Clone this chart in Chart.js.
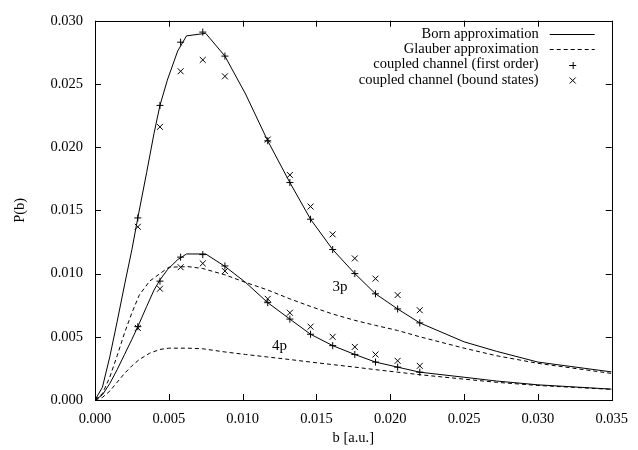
<!DOCTYPE html>
<html lang="en">
<head>
  <meta charset="UTF-8" />
  <title>P(b) for 3p and 4p</title>
  <script src="https://cdn.jsdelivr.net/npm/chart.js"></script>
  <style>
    html, body { margin: 0; padding: 0; background: #fff; }
    #wrap { width: 638px; height: 450px; }
  </style>
</head>
<body>
  <div id="wrap"><canvas id="chart" width="638" height="450"></canvas></div>

  <script>
    // curve grids (b in a.u.)
    const bornB = [0, 0.0005, 0.001, 0.0015, 0.002, 0.0025, 0.0029, 0.0035, 0.004, 0.0044, 0.0049, 0.0056, 0.0062, 0.0075, 0.0088, 0.0102, 0.0117, 0.0132, 0.0146, 0.0161, 0.0176, 0.019, 0.0205, 0.022, 0.025, 0.0272, 0.030, 0.035];
    const born3p = [0, 0.0010, 0.0034, 0.0062, 0.0091, 0.0119, 0.0144, 0.0180, 0.0211, 0.0233, 0.0253, 0.0276, 0.0288, 0.0290, 0.0272, 0.0242, 0.0205, 0.0172, 0.0143, 0.0119, 0.0100, 0.0084, 0.0072, 0.0061, 0.0046, 0.00385, 0.0030, 0.00222];
    const born4p = [0, 0.0004, 0.0013, 0.0024, 0.0036, 0.0048, 0.0058, 0.0074, 0.0087, 0.0095, 0.0103, 0.0111, 0.01155, 0.01155, 0.01057, 0.0093, 0.0077, 0.0064, 0.0052, 0.0043, 0.0036, 0.0030, 0.0026, 0.0022, 0.0018, 0.0015, 0.0012, 0.00086];

    const glauberB = [0, 0.0005, 0.001, 0.0015, 0.002, 0.0025, 0.003, 0.0037, 0.0044, 0.005, 0.0063, 0.0073, 0.0088, 0.0102, 0.0117, 0.0132, 0.0146, 0.0161, 0.0176, 0.019, 0.0205, 0.022, 0.025, 0.0272, 0.030, 0.035];
    const glauber3p = [0, 0.0005, 0.0018, 0.0035, 0.0053, 0.0069, 0.0083, 0.0094, 0.0100, 0.0105, 0.01055, 0.0104, 0.0099, 0.0093, 0.0087, 0.0080, 0.0074, 0.0068, 0.0063, 0.0059, 0.0055, 0.0050, 0.0041, 0.0035, 0.0029, 0.0021];
    const glauber4p = [0, 0.0002, 0.0007, 0.0014, 0.0021, 0.0027, 0.0032, 0.0037, 0.0040, 0.0041, 0.0041, 0.00405, 0.0038, 0.0036, 0.0034, 0.0032, 0.0030, 0.0028, 0.0026, 0.0024, 0.0022, 0.0020, 0.00165, 0.0014, 0.00115, 0.00084];

    // coupled channel points
    const pointB = [0.0029, 0.0044, 0.0058, 0.0073, 0.0088, 0.0117, 0.0132, 0.0146, 0.0161, 0.0176, 0.0190, 0.0205, 0.0220];
    const firstOrder3p = [0.0144, 0.0233, 0.0283, 0.0291, 0.0272, 0.0205, 0.0172, 0.0143, 0.0119, 0.0100, 0.0084, 0.0072, 0.0061];
    const boundStates3p = [0.0137, 0.0216, 0.0260, 0.0269, 0.0256, 0.0206, 0.0178, 0.0153, 0.0131, 0.0112, 0.0096, 0.0083, 0.0071];
    const firstOrder4p = [0.0058, 0.0094, 0.0113, 0.0115, 0.0106, 0.0077, 0.0064, 0.0052, 0.0043, 0.0036, 0.0030, 0.0026, 0.0022];
    const boundStates4p = [0.0057, 0.0088, 0.0105, 0.0108, 0.0102, 0.0080, 0.0069, 0.0058, 0.0050, 0.0042, 0.0036, 0.0031, 0.0027];

    const legendNames = ["Born approximation", "Glauber approximation", "coupled channel (first order)", "coupled channel (bound states)"];
    const curveLabels = ["3p", "4p"];
    const curveLabelB = [0.0166, 0.0125];
    const curveLabelP = [0.0089, 0.0043];

    const xTicks = [0, 0.005, 0.010, 0.015, 0.020, 0.025, 0.030, 0.035];
    const yTicks = [0, 0.005, 0.010, 0.015, 0.020, 0.025, 0.030];

    const serif = "'Liberation Serif', 'Times New Roman', 'DejaVu Serif', serif";

    function pts(xs, ys) {
      return xs.map((x, i) => ({ x, y: ys[i] }));
    }

    function lineSet(label, xs, ys, dashed) {
      return {
        label,
        data: pts(xs, ys),
        showLine: true,
        borderColor: '#000',
        borderWidth: 1,
        borderDash: dashed ? [4, 3] : [],
        pointRadius: 0,
        tension: 0,
        fill: false
      };
    }

    function markSet(label, ys, style) {
      return {
        label,
        data: pts(pointB, ys),
        showLine: false,
        pointStyle: style,
        pointRadius: style === 'cross' ? 3.5 : 4.2,
        borderColor: '#000',
        backgroundColor: '#000',
        pointBorderWidth: 1
      };
    }

    // frame, inward ticks, legend and curve labels
    const decorations = {
      id: 'decorations',
      afterDatasetsDraw(chart) {
        const ctx = chart.ctx;
        const { left, right, top, bottom } = chart.chartArea;
        const xs = chart.scales.x, ys = chart.scales.y;
        const tl = 6;
        ctx.save();
        ctx.strokeStyle = '#000';
        ctx.lineWidth = 1;
        ctx.setLineDash([]);
        ctx.beginPath();
        xTicks.forEach(v => {
          const px = Math.round(xs.getPixelForValue(v)) + 0.5;
          ctx.moveTo(px, bottom); ctx.lineTo(px, bottom - tl);
          ctx.moveTo(px, top); ctx.lineTo(px, top + tl);
        });
        yTicks.forEach(v => {
          const py = Math.round(ys.getPixelForValue(v)) + 0.5;
          ctx.moveTo(left, py); ctx.lineTo(left + tl, py);
          ctx.moveTo(right, py); ctx.lineTo(right - tl, py);
        });
        ctx.stroke();
        ctx.strokeRect(Math.round(left) + 0.5, Math.round(top) + 0.5, Math.round(right - left), Math.round(bottom - top));

        // legend
        ctx.font = '14.5px ' + serif;
        ctx.fillStyle = '#000';
        ctx.textAlign = 'right';
        ctx.textBaseline = 'middle';
        const textX = right - 73, s0 = right - 62, s1 = right - 17, mid = right - 39;
        legendNames.forEach((name, i) => {
          const y = top + 13 + i * 15.4;
          ctx.fillText(name, textX, y);
          const yy = Math.round(y) + 0.5;
          if (i < 2) {
            ctx.setLineDash(i === 1 ? [4, 3] : []);
            ctx.beginPath();
            ctx.moveTo(s0, yy); ctx.lineTo(s1, yy);
            ctx.stroke();
            ctx.setLineDash([]);
          } else if (i === 2) {
            ctx.beginPath();
            ctx.moveTo(mid - 3.5, yy); ctx.lineTo(mid + 3.5, yy);
            ctx.moveTo(mid + 0.5, yy - 3.5); ctx.lineTo(mid + 0.5, yy + 3.5);
            ctx.stroke();
          } else {
            ctx.beginPath();
            ctx.moveTo(mid - 3, yy - 3); ctx.lineTo(mid + 3, yy + 3);
            ctx.moveTo(mid - 3, yy + 3); ctx.lineTo(mid + 3, yy - 3);
            ctx.stroke();
          }
        });

        // 3p / 4p labels
        ctx.font = '15px ' + serif;
        ctx.textAlign = 'center';
        curveLabels.forEach((t, i) => {
          ctx.fillText(t, xs.getPixelForValue(curveLabelB[i]), ys.getPixelForValue(curveLabelP[i]));
        });
        ctx.restore();
      }
    };

    const tickFont = { family: serif, size: 14.5 };

    new Chart(document.getElementById('chart'), {
      type: 'scatter',
      data: {
        datasets: [
          lineSet(legendNames[0], bornB, born3p, false),
          lineSet(legendNames[0], bornB, born4p, false),
          lineSet(legendNames[1], glauberB, glauber3p, true),
          lineSet(legendNames[1], glauberB, glauber4p, true),
          markSet(legendNames[2], firstOrder3p, 'cross'),
          markSet(legendNames[2], firstOrder4p, 'cross'),
          markSet(legendNames[3], boundStates3p, 'crossRot'),
          markSet(legendNames[3], boundStates4p, 'crossRot')
        ]
      },
      options: {
        responsive: false,
        animation: false,
        layout: { padding: { top: 17, right: 21, left: 0, bottom: 0 } },
        plugins: {
          legend: { display: false },
          tooltip: { enabled: false }
        },
        scales: {
          x: {
            type: 'linear',
            min: 0,
            max: 0.035,
            afterBuildTicks: s => { s.ticks = xTicks.map(v => ({ value: v })); },
            afterFit: s => { s.height = 50; },
            ticks: {
              padding: 10,
              color: '#000',
              font: tickFont,
              maxRotation: 0,
              callback: v => v.toFixed(3)
            },
            grid: { display: false, drawTicks: false },
            border: { display: false },
            title: {
              display: true,
              text: 'b [a.u.]',
              color: '#000',
              font: tickFont,
              padding: { top: 4, bottom: 3 }
            }
          },
          y: {
            type: 'linear',
            min: 0,
            max: 0.030,
            afterBuildTicks: s => { s.ticks = yTicks.map(v => ({ value: v })); },
            afterFit: s => { s.width = 95; },
            ticks: {
              padding: 12,
              color: '#000',
              font: tickFont,
              callback: v => v.toFixed(3)
            },
            grid: { display: false, drawTicks: false },
            border: { display: false },
            title: {
              display: true,
              text: 'P(b)',
              color: '#000',
              font: tickFont,
              padding: { top: 11, bottom: 0 }
            }
          }
        }
      },
      plugins: [decorations]
    });
  </script>
</body>
</html>
